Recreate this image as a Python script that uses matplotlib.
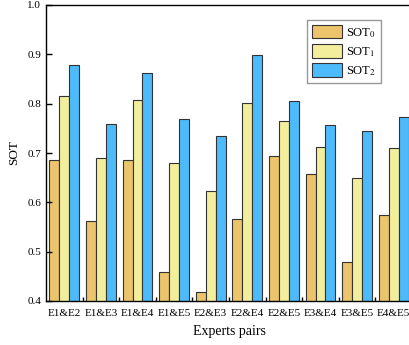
import matplotlib
matplotlib.use('Agg')
import matplotlib.pyplot as plt
import numpy as np

plt.rcParams['font.family'] = ['Liberation Serif', 'DejaVu Serif']
plt.rcParams['mathtext.fontset'] = 'stix'

# Data
pairs = ['E1&E2', 'E1&E3', 'E1&E4', 'E1&E5', 'E2&E3',
         'E2&E4', 'E2&E5', 'E3&E4', 'E3&E5', 'E4&E5']
sot0 = [0.685, 0.562, 0.685, 0.458, 0.418, 0.566, 0.694, 0.658, 0.480, 0.574]
sot1 = [0.815, 0.690, 0.807, 0.679, 0.623, 0.801, 0.765, 0.712, 0.650, 0.710]
sot2 = [0.878, 0.758, 0.862, 0.768, 0.734, 0.898, 0.806, 0.757, 0.745, 0.772]

colors = ['#EBC46B', '#F2EE9C', '#4DBBFB']
labels = ['SOT$_0$', 'SOT$_1$', 'SOT$_2$']

fig = plt.figure(figsize=(4.09, 3.45), dpi=100)
ax = fig.add_axes([46/409, 44/345, 366/409, 296/345])

x = np.arange(len(pairs))
w = 0.273
for i, vals in enumerate([sot0, sot1, sot2]):
    ax.bar(x + (i - 1) * w, vals, width=w, color=colors[i],
           edgecolor='#333333', linewidth=0.8, label=labels[i])

ax.set_xlim(-0.5, len(pairs) - 0.5)
ax.set_ylim(0.4, 1.0)
ax.set_yticks([0.4, 0.5, 0.6, 0.7, 0.8, 0.9, 1.0])
ax.set_xticks(x)
ax.set_xticklabels(pairs, fontsize=8)
ax.set_xticks(np.arange(len(pairs) - 1) + 0.5, minor=True)
ax.tick_params(axis='x', which='major', length=0, pad=6)
ax.tick_params(axis='x', which='minor', direction='in', length=3, width=1)
ax.tick_params(axis='y', direction='in', length=4, width=1, labelsize=8)
for s in ['left', 'bottom', 'top']:
    ax.spines[s].set_linewidth(1.0)
ax.spines['right'].set_visible(False)

ax.set_xlabel('Experts pairs', fontsize=10, labelpad=5)
ax.set_ylabel('SOT', fontsize=9.5, labelpad=5)

leg = ax.legend(loc='upper left', bbox_to_anchor=(0.713, 0.95), borderaxespad=0,
                fontsize=9, fancybox=False, framealpha=1, edgecolor='#999999',
                handlelength=2.4, handleheight=1.3, labelspacing=0.35,
                handletextpad=0.35, borderpad=0.4)

fig.savefig('out.png', dpi=100)
